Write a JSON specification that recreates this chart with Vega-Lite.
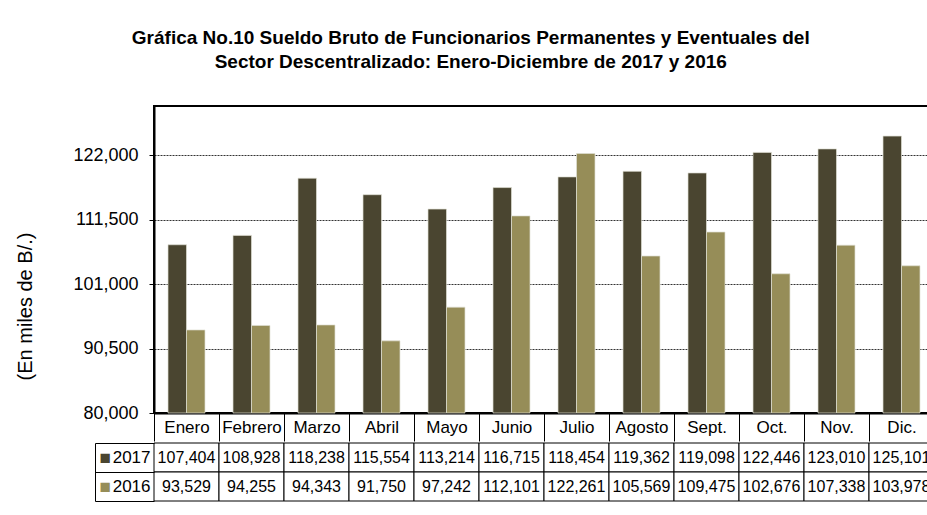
{
  "$schema": "https://vega.github.io/schema/vega-lite/v6.json",
  "padding": {"left": 14, "top": 29, "right": 0, "bottom": 0},
  "background": "white",
  "spacing": -9,
  "config": {"font": "Liberation Sans"},
  "title": {
    "text": ["Gráfica No.10 Sueldo Bruto de Funcionarios Permanentes y Eventuales del", "Sector Descentralizado: Enero-Diciembre de 2017 y 2016"],
    "font": "Liberation Sans", "fontSize": 19, "fontWeight": "bold", "color": "black",
    "anchor": "middle", "lineHeight": 24, "offset": 33, "dx": -4
  },
  "datasets": {
    "d": [
      {"month": "Enero", "year": "2017", "value": 107404},
      {"month": "Febrero", "year": "2017", "value": 108928},
      {"month": "Marzo", "year": "2017", "value": 118238},
      {"month": "Abril", "year": "2017", "value": 115554},
      {"month": "Mayo", "year": "2017", "value": 113214},
      {"month": "Junio", "year": "2017", "value": 116715},
      {"month": "Julio", "year": "2017", "value": 118454},
      {"month": "Agosto", "year": "2017", "value": 119362},
      {"month": "Sept.", "year": "2017", "value": 119098},
      {"month": "Oct.", "year": "2017", "value": 122446},
      {"month": "Nov.", "year": "2017", "value": 123010},
      {"month": "Dic.", "year": "2017", "value": 125101},
      {"month": "Enero", "year": "2016", "value": 93529},
      {"month": "Febrero", "year": "2016", "value": 94255},
      {"month": "Marzo", "year": "2016", "value": 94343},
      {"month": "Abril", "year": "2016", "value": 91750},
      {"month": "Mayo", "year": "2016", "value": 97242},
      {"month": "Junio", "year": "2016", "value": 112101},
      {"month": "Julio", "year": "2016", "value": 122261},
      {"month": "Agosto", "year": "2016", "value": 105569},
      {"month": "Sept.", "year": "2016", "value": 109475},
      {"month": "Oct.", "year": "2016", "value": 102676},
      {"month": "Nov.", "year": "2016", "value": 107338},
      {"month": "Dic.", "year": "2016", "value": 103978}
    ]
  },
  "vconcat": [
    {
      "width": 780,
      "height": 307,
      "data": {"name": "d"},
      "view": {"stroke": "black", "strokeWidth": 2},
      "mark": {"type": "bar", "stroke": "#e0e0d4", "strokeWidth": 0.7},
      "encoding": {
        "x": {
          "field": "month", "type": "nominal",
          "sort": ["Enero", "Febrero", "Marzo", "Abril", "Mayo", "Junio", "Julio", "Agosto", "Sept.", "Oct.", "Nov.", "Dic."],
          "scale": {"paddingInner": 0, "paddingOuter": 0},
          "axis": {
            "title": null, "labelAngle": 0, "labelFontSize": 17, "labelColor": "black",
            "labelBaseline": "middle", "labelPadding": -14, "labelOverlap": false,
            "ticks": true, "tickBand": "extent", "tickSize": 28, "tickColor": "black", "tickWidth": 1,
            "domain": true, "domainColor": "black", "domainWidth": 2
          }
        },
        "xOffset": {
          "field": "year", "type": "nominal", "sort": ["2017", "2016"],
          "scale": {"paddingInner": 0, "paddingOuter": 0.757}
        },
        "y": {
          "field": "value", "type": "quantitative",
          "scale": {"domain": [80000, 130000], "zero": false, "nice": false},
          "axis": {
            "title": "(En miles de B/.)", "titleFontSize": 20, "titleFontWeight": "normal", "titleColor": "black",
            "titleAngle": -90, "titleX": -129, "titleY": 200, "titleAlign": "center", "titleBaseline": "middle",
            "values": [80000, 90500, 101000, 111500, 122000], "format": ",d",
            "labelFontSize": 18, "labelColor": "black", "labelPadding": 11,
            "tickSize": 5, "tickColor": "black", "domainColor": "black", "domainWidth": 2,
            "grid": true, "gridColor": "#333333", "gridDash": [2, 1], "gridWidth": 1
          }
        },
        "y2": {"datum": 80000},
        "color": {
          "field": "year", "type": "nominal",
          "scale": {"domain": ["2017", "2016"], "range": ["#4a4530", "#968d58"]},
          "legend": null
        }
      }
    },
    {
      "width": 780,
      "height": 58,
      "data": {"name": "d"},
      "view": {"stroke": null},
      "encoding": {
        "x": {
          "field": "month", "type": "nominal",
          "sort": ["Enero", "Febrero", "Marzo", "Abril", "Mayo", "Junio", "Julio", "Agosto", "Sept.", "Oct.", "Nov.", "Dic."],
          "scale": {"paddingInner": 0, "paddingOuter": 0},
          "axis": null
        }
      },
      "layer": [
        {
          "mark": {"type": "rect", "fill": "white", "stroke": "black", "strokeWidth": 1},
          "encoding": {
            "y": {
              "field": "year", "type": "nominal", "sort": ["2017", "2016"],
              "scale": {"paddingInner": 0, "paddingOuter": 0},
              "axis": {
                "title": null, "orient": "left", "tickBand": "extent", "tickSize": 59, "tickColor": "black", "tickWidth": 1,
                "domain": false, "labelFontSize": 17, "labelColor": "black", "labelPadding": -55,
                "labelAlign": "right", "labelBaseline": "middle"
              }
            }
          }
        },
        {
          "mark": {"type": "text", "fontSize": 16, "color": "black"},
          "encoding": {
            "y": {
              "field": "year", "type": "nominal", "sort": ["2017", "2016"],
              "axis": {
                "title": null, "orient": "left", "offset": 59, "ticks": false, "tickSize": 0,
                "domain": true, "domainColor": "black", "domainWidth": 1,
                "labelExpr": "'■'", "labelFontSize": 19, "labelAlign": "left", "labelBaseline": "middle", "labelPadding": -4,
                "labelColor": {"condition": {"test": "datum.value == '2017'", "value": "#4a4530"}, "value": "#968d58"}
              }
            },
            "text": {"field": "value", "type": "quantitative", "format": ",d"}
          }
        }
      ],
      "resolve": {"axis": {"y": "independent"}}
    }
  ]
}
